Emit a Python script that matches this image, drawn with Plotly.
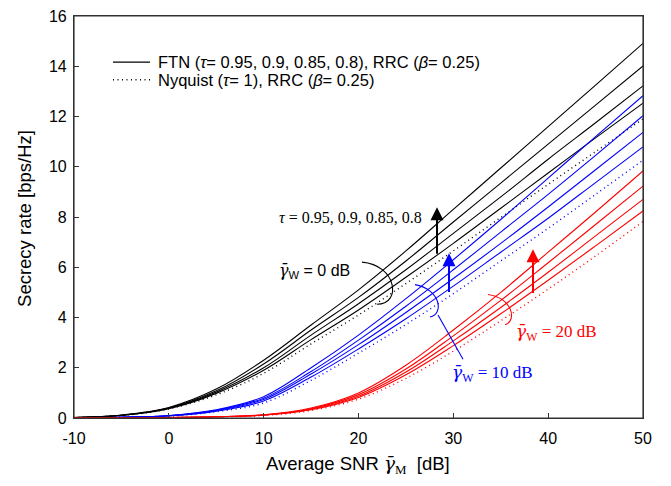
import plotly.graph_objects as go

snr = [-10, -5, 0, 5, 10, 15, 20, 25, 30, 35, 40, 45, 50]

# gamma_W = 0 dB (black)
k_tau080 = [0.02, 0.12, 0.42, 1.15, 2.30, 3.70, 5.10, 6.65, 8.30, 9.95, 11.60, 13.25, 14.91]
k_tau085 = [0.02, 0.11, 0.40, 1.08, 2.15, 3.50, 4.80, 6.25, 7.80, 9.35, 10.90, 12.45, 14.01]
k_tau090 = [0.02, 0.11, 0.39, 1.03, 2.00, 3.30, 4.55, 5.90, 7.35, 8.80, 10.30, 11.75, 13.22]
k_tau095 = [0.02, 0.10, 0.37, 0.98, 1.90, 3.12, 4.30, 5.60, 6.95, 8.35, 9.75, 11.15, 12.53]
k_nyq    = [0.02, 0.10, 0.36, 0.92, 1.78, 2.95, 4.10, 5.35, 6.65, 7.98, 9.30, 10.60, 11.90]

# gamma_W = 10 dB (blue)
b_tau080 = [0.01, 0.03, 0.10, 0.33, 0.85, 2.00, 3.30, 4.75, 6.30, 7.90, 9.55, 11.20, 12.83]
b_tau085 = [0.01, 0.03, 0.09, 0.31, 0.79, 1.85, 3.10, 4.45, 5.90, 7.40, 8.90, 10.45, 12.03]
b_tau090 = [0.01, 0.03, 0.09, 0.29, 0.74, 1.75, 2.92, 4.20, 5.55, 6.95, 8.40, 9.88, 11.37]
b_tau095 = [0.01, 0.03, 0.08, 0.27, 0.68, 1.63, 2.75, 3.95, 5.25, 6.60, 7.95, 9.37, 10.79]
b_nyq    = [0.01, 0.03, 0.08, 0.25, 0.60, 1.50, 2.58, 3.72, 4.95, 6.25, 7.55, 8.90, 10.26]

# gamma_W = 20 dB (red)
r_tau080 = [0.0, 0.005, 0.02, 0.05, 0.13, 0.40, 1.00, 2.10, 3.50, 5.00, 6.60, 8.20, 9.83]
r_tau085 = [0.0, 0.005, 0.02, 0.05, 0.12, 0.37, 0.93, 1.95, 3.27, 4.68, 6.18, 7.70, 9.23]
r_tau090 = [0.0, 0.005, 0.02, 0.05, 0.12, 0.35, 0.87, 1.83, 3.07, 4.40, 5.80, 7.25, 8.70]
r_tau095 = [0.0, 0.005, 0.02, 0.05, 0.11, 0.33, 0.82, 1.72, 2.88, 4.15, 5.48, 6.85, 8.24]
r_nyq    = [0.0, 0.005, 0.02, 0.04, 0.10, 0.30, 0.75, 1.58, 2.66, 3.87, 5.13, 6.45, 7.82]

x_ticks = [-10, 0, 10, 20, 30, 40, 50]
x_ticktext = ["-10", "0", "10", "20", "30", "40", "50"]
y_ticks = [0, 2, 4, 6, 8, 10, 12, 14, 16]

legend_ftn = "FTN (<i>τ</i>= 0.95, 0.9, 0.85, 0.8), RRC (<i>β</i>= 0.25)"
legend_nyq = "Nyquist (<i>τ</i>= 1), RRC (<i>β</i>= 0.25)"

DOT = "1px,3.5px"

groups = [
    ("black", [k_tau080, k_tau085, k_tau090, k_tau095], k_nyq),
    ("blue", [b_tau080, b_tau085, b_tau090, b_tau095], b_nyq),
    ("red", [r_tau080, r_tau085, r_tau090, r_tau095], r_nyq),
]

fig = go.Figure()
for color, ftn, nyq in groups:
    for ys in ftn:
        fig.add_trace(go.Scatter(
            x=snr, y=ys, mode="lines", line=dict(color=color, width=1.1, shape="spline"),
            name=legend_ftn, showlegend=False))
    fig.add_trace(go.Scatter(
        x=snr, y=nyq, mode="lines", line=dict(color=color, width=1.4, dash=DOT, shape="spline"),
        name=legend_nyq, showlegend=False))

# pixel -> data helpers for annotation decorations
W, H = 671, 486
L, R, T, B = 74, 643, 8, 418
def dx(px):
    return -10 + (px - L) * 60.0 / (R - L)
def dy(py):
    return (B - py) * 16.0 / (B - T)
def pxp(px):
    return (px - L) / (R - L)
def pyp(py):
    return (B - py) / (B - T)

def bracket(p0, c1, c2, p1):
    return "M {} {} C {} {}, {} {}, {} {}".format(
        dx(p0[0]), dy(p0[1]), dx(c1[0]), dy(c1[1]), dx(c2[0]), dy(c2[1]), dx(p1[0]), dy(p1[1]))

shapes = [
    dict(type="rect", xref="paper", yref="paper", x0=0, x1=1, y0=0, y1=1,
         line=dict(color="#333", width=1.2), layer="above"),
    dict(type="path", xref="x", yref="y", path=bracket((362, 259), (397, 262), (402, 302), (377, 302)),
         line=dict(color="black", width=1.1)),
    dict(type="path", xref="x", yref="y", path=bracket((415, 282), (441, 287), (444, 312), (430, 315)),
         line=dict(color="blue", width=1.1)),
    dict(type="line", xref="x", yref="y", x0=dx(438), y0=dy(313), x1=dx(463), y1=dy(358),
         line=dict(color="blue", width=1.1)),
    dict(type="path", xref="x", yref="y", path=bracket((488, 292), (513, 296), (517, 319), (505, 323)),
         line=dict(color="red", width=1.1)),
    # legend sample lines
    dict(type="line", xref="paper", yref="paper", x0=pxp(113), x1=pxp(150), y0=pyp(55), y1=pyp(55),
         line=dict(color="black", width=1.1)),
    dict(type="line", xref="paper", yref="paper", x0=pxp(113), x1=pxp(150), y0=pyp(73), y1=pyp(73),
         line=dict(color="black", width=1.4, dash=DOT)),
]

annotations = []
for px, head, tail, col in [(437, 203, 252, "black"), (449, 250, 291, "blue"), (533, 246, 292, "red")]:
    annotations.append(dict(x=dx(px), y=dy(head), ax=dx(px), ay=dy(tail), xref="x", yref="y",
                            axref="x", ayref="y", text="", showarrow=True, arrowhead=2,
                            arrowsize=1.3, arrowwidth=2, arrowcolor=col))

sans = "Liberation Sans"
serif = "Liberation Serif"
gam = "<span style='font-family:DejaVu Serif'><i>γ̄</i></span>"
annotations += [
    dict(x=pxp(156), y=pyp(55), xref="paper", yref="paper", xanchor="left", yanchor="middle",
         showarrow=False, text=legend_ftn, font=dict(family=sans, size=16.5, color="black")),
    dict(x=pxp(156), y=pyp(73), xref="paper", yref="paper", xanchor="left", yanchor="middle",
         showarrow=False, text=legend_nyq, font=dict(family=sans, size=16.5, color="black")),
    dict(x=dx(277), y=dy(214), xref="x", yref="y", xanchor="left", yanchor="middle", showarrow=False,
         text="<i>τ</i> = 0.95, 0.9, 0.85, 0.8", font=dict(family=serif, size=16, color="black")),
    dict(x=dx(277), y=dy(268), xref="x", yref="y", xanchor="left", yanchor="middle", showarrow=False,
         text=gam + "<sub>W</sub> = 0 dB", font=dict(family=sans, size=16, color="black")),
    dict(x=dx(450), y=dy(373), xref="x", yref="y", xanchor="left", yanchor="middle", showarrow=False,
         text=gam + "<sub>W</sub> = 10 dB", font=dict(family=serif, size=17, color="blue")),
    dict(x=dx(514), y=dy(331), xref="x", yref="y", xanchor="left", yanchor="middle", showarrow=False,
         text=gam + "<sub>W</sub> = 20 dB", font=dict(family=serif, size=17, color="red")),
    # axis titles
    dict(x=pxp(358), y=pyp(466), xref="paper", yref="paper", xanchor="center",
         yanchor="middle", showarrow=False,
         text="Average SNR " + gam + "<span style='font-family:Liberation Serif'><sub>M</sub></span>  [dB]",
         font=dict(family=sans, size=18.5, color="black")),
    dict(x=pxp(25), y=pyp(215), xref="paper", yref="paper", xanchor="center", yanchor="middle",
         showarrow=False, textangle=-90, text="Secrecy rate [bps/Hz]",
         font=dict(family=sans, size=18.5, color="black")),
]

axis_common = dict(showline=True, linecolor="#333", linewidth=1.2, mirror=True, ticks="inside",
                   ticklen=5, tickcolor="#333", showgrid=False, zeroline=False,
                   ticklabeloverflow="allow",
                   tickfont=dict(family=sans, size=16, color="black"))

fig.update_layout(
    width=W, height=H,
    margin=dict(l=L, r=W - R, t=T, b=H - B),
    paper_bgcolor="white", plot_bgcolor="white",
    showlegend=False,
    xaxis=dict(range=[-10, 50], tickvals=x_ticks, ticktext=x_ticktext, ticklabelstandoff=6,
               **axis_common),
    yaxis=dict(range=[0, 16], tickvals=y_ticks, ticklabelstandoff=3, **axis_common),
    shapes=shapes, annotations=annotations,
)

fig.write_html("out.html")
